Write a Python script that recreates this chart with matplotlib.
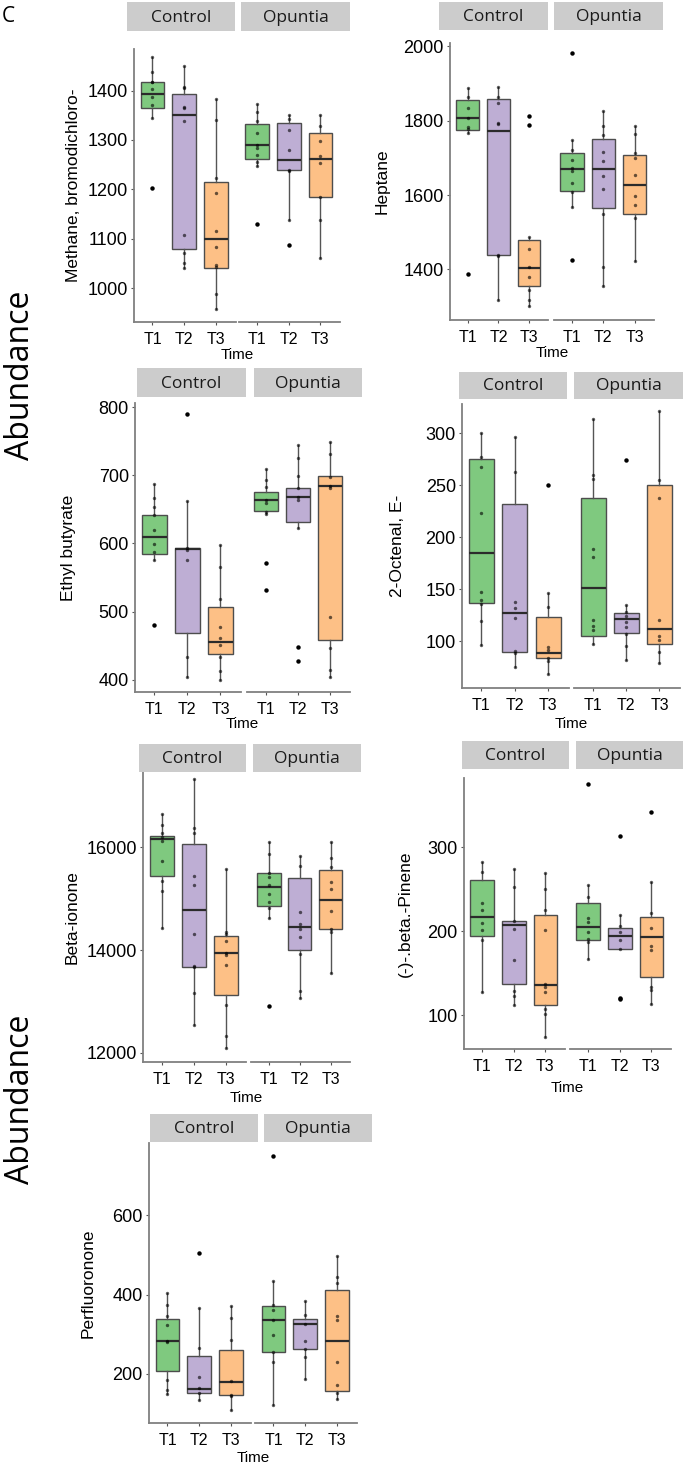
import numpy as np
import matplotlib
matplotlib.use("Agg")
from matplotlib import pyplot as plt
from matplotlib.patches import Rectangle

plt.rcParams['font.family'] = ['Liberation Sans', 'DejaVu Sans']

# groups are always: Control T1, T2, T3, Opuntia T1, T2, T3
groups = ['Control', 'Opuntia']
times = ['T1', 'T2', 'T3']
colors = ['#7FC97F', '#BEAED4', '#FDC086']

# box stats per group: [lower whisker, q1, median, q3, upper whisker]
methane_box = [[1344, 1364, 1394, 1418, 1467], [1042, 1080, 1351, 1393, 1449], [958, 1041, 1099, 1216, 1382],
               [1248, 1262, 1289, 1332, 1372], [1138, 1239, 1259, 1334, 1351], [1061, 1184, 1262, 1314, 1351]]
methane_pts = [[1467, 1438, 1418, 1417, 1403, 1387, 1370, 1344],
               [1449, 1407, 1405, 1366, 1364, 1339, 1108, 1071, 1051, 1042],
               [1382, 1341, 1224, 1192, 1115, 1083, 1047, 1044, 989, 958],
               [1372, 1357, 1339, 1314, 1289, 1283, 1270, 1255, 1248],
               [1351, 1343, 1320, 1280, 1240, 1238, 1138],
               [1351, 1329, 1297, 1268, 1254, 1184, 1138, 1061]]
methane_out = [[1202], [], [], [1130], [1088], []]

heptane_box = [[1766, 1775, 1808, 1856, 1887], [1319, 1439, 1772, 1859, 1891], [1301, 1355, 1405, 1479, 1486],
               [1569, 1612, 1670, 1714, 1748], [1355, 1566, 1670, 1752, 1827], [1423, 1548, 1627, 1709, 1787]]
heptane_pts = [[1887, 1863, 1834, 1807, 1784, 1777, 1766],
               [1891, 1863, 1848, 1794, 1790, 1440, 1436, 1319],
               [1486, 1456, 1407, 1380, 1346, 1319, 1301],
               [1748, 1721, 1694, 1672, 1665, 1633, 1607, 1569],
               [1827, 1786, 1761, 1715, 1691, 1651, 1616, 1549, 1407, 1355],
               [1787, 1763, 1712, 1699, 1654, 1597, 1573, 1539, 1423]]
heptane_out = [[1387], [], [1813, 1788], [1983, 1425], [], []]

ethyl_box = [[575, 585, 609, 642, 687], [404, 469, 592, 593, 662], [400, 438, 456, 507, 598],
             [643, 647, 664, 676, 709], [623, 632, 668, 681, 745], [404, 458, 684, 699, 749]]
ethyl_pts = [[687, 666, 654, 642, 620, 599, 588, 575],
             [662, 593, 591, 576, 433, 404],
             [598, 566, 519, 477, 461, 451, 433, 413, 400],
             [709, 693, 683, 663, 659, 646, 643],
             [745, 726, 699, 681, 668, 663, 623],
             [749, 731, 698, 684, 681, 492, 446, 414, 404]]
ethyl_out = [[481], [790], [], [571, 531], [448, 428], []]

octenal_box = [[96, 137, 185, 275, 300], [75, 90, 127, 232, 296], [68, 84, 89, 123, 146],
               [97, 105, 151, 238, 314], [82, 108, 121, 127, 135], [79, 97, 112, 250, 321]]
octenal_pts = [[300, 277, 267, 223, 147, 140, 136, 119, 96],
               [296, 263, 138, 132, 122, 91, 89, 75],
               [146, 133, 94, 92, 84, 81, 68],
               [314, 260, 256, 189, 181, 120, 115, 111, 97],
               [135, 128, 124, 118, 114, 107, 95, 82],
               [321, 255, 238, 120, 105, 101, 90, 79]]
octenal_out = [[], [], [250], [], [274], []]

ionone_box = [[14435, 15442, 16162, 16221, 16643], [12539, 13675, 14779, 16065, 17325],
              [12084, 13123, 13935, 14279, 15571], [14630, 14857, 15221, 15494, 16097],
              [13058, 14000, 14455, 15409, 15831], [13545, 14403, 14974, 15558, 16110]]
ionone_pts = [[16643, 16435, 16273, 16208, 16123, 15740, 15344, 15156, 14435],
              [17325, 16383, 16286, 15442, 15266, 14305, 13688, 13662, 13169, 12539],
              [15571, 14357, 14312, 14182, 13948, 13903, 13708, 12929, 12325, 12084],
              [16097, 15870, 15506, 15429, 15266, 15084, 14942, 14812, 14630],
              [15831, 15636, 14747, 14500, 14403, 14260, 13916, 13208, 13058],
              [16110, 15799, 15623, 15331, 15182, 14760, 14409, 14357, 13545]]
ionone_out = [[], [], [], [12909], [], []]

pinene_box = [[128, 194, 217, 261, 282], [112, 137, 207, 212, 274], [74, 112, 136, 219, 269],
              [167, 189, 205, 234, 255], [179, 179, 194, 204, 219], [114, 145, 193, 217, 258]]
pinene_pts = [[282, 270, 233, 225, 210, 201, 189, 128],
              [274, 252, 212, 202, 166, 129, 123, 112],
              [269, 250, 225, 201, 137, 134, 128, 107, 101, 74],
              [255, 241, 216, 211, 199, 191, 187, 167],
              [219, 206, 199, 190, 179],
              [258, 222, 204, 182, 178, 134, 130, 114]]
pinene_out = [[], [], [], [375], [313, 121, 120], [342]]

perfl_box = [[150, 208, 282, 339, 405], [134, 151, 162, 245, 367], [108, 147, 179, 259, 371],
             [122, 255, 336, 372, 433], [187, 262, 325, 338, 384], [136, 157, 283, 411, 496]]
perfl_pts = [[405, 374, 345, 322, 282, 280, 185, 160, 150],
             [367, 265, 191, 164, 151, 134],
             [371, 340, 286, 181, 147, 145, 108],
             [433, 373, 362, 336, 297, 255, 229, 122],
             [384, 349, 325, 284, 263, 242, 187],
             [496, 443, 430, 346, 335, 231, 172, 151, 136]]
perfl_out = [[], [504], [], [750], [], []]

W, H = 685, 1465
fig = plt.figure(figsize=(W / 100, H / 100), dpi=100)


def rect(x0, y0, x1, y1):
    return [x0 / W, 1 - y1 / H, (x1 - x0) / W, (y1 - y0) / H]


def panel(label, box, pts, out, ylim, yticks, geo):
    cx0, cx1, ox0, ox1, y0, y1, sc0, sc1, so0, so1, sy0, sy1, lab_x, time_y = geo
    axc = fig.add_axes(rect(cx0, y0, cx1, y1))
    axo = fig.add_axes(rect(ox0, y0, ox1, y1), sharey=axc)
    for k, ax in enumerate([axc, axo]):
        stats = []
        for i in range(3):
            lo, q1, med, q3, hi = box[3 * k + i]
            stats.append(dict(whislo=lo, q1=q1, med=med, q3=q3, whishi=hi, fliers=out[3 * k + i]))
        bp = ax.bxp(stats, positions=[1, 2, 3], widths=0.75, patch_artist=True, showcaps=False,
                    boxprops=dict(edgecolor='#4d4d4d', linewidth=1.0),
                    whiskerprops=dict(color='#555555', linewidth=1.0),
                    medianprops=dict(color='#2b2b2b', linewidth=1.6),
                    flierprops=dict(marker='o', markerfacecolor='black', markeredgecolor='none',
                                    markersize=3.2))
        for patch, c in zip(bp['boxes'], colors):
            patch.set_facecolor(c)
        for i in range(3):
            y = pts[3 * k + i]
            ax.scatter(np.full(len(y), i + 1), y, s=6, c='black', alpha=0.6, lw=0, zorder=4)
        ax.set_xlim(0.42, 3.62)
        ax.set_xticks([1, 2, 3])
        ax.set_xticklabels(times, fontsize=11.5)
        ax.tick_params(axis='x', length=2.5, width=0.8, color='#555555', pad=5)
        for s in ['top', 'right']:
            ax.spines[s].set_visible(False)
        ax.spines['bottom'].set_color('#808080')
        ax.spines['bottom'].set_linewidth(1.3)
        ax.set_facecolor('none')
        strip = (sc0, sc1) if k == 0 else (so0, so1)
        fig.patches.append(Rectangle((strip[0] / W, 1 - sy1 / H), (strip[1] - strip[0]) / W,
                                     (sy1 - sy0) / H, transform=fig.transFigure,
                                     facecolor='#cccccc', edgecolor='none'))
        fig.text((strip[0] + strip[1]) / 2 / W, 1 - (sy0 + sy1 + 2) / 2 / H, groups[k],
                 family='Open Sans', fontsize=12.5, ha='center', va='center', color='#1a1a1a')
    axc.set_ylim(*ylim)
    axc.set_yticks(yticks)
    axc.tick_params(axis='y', length=2.5, width=0.8, color='#555555', pad=2, labelsize=13)
    axc.spines['left'].set_color('#808080')
    axc.spines['left'].set_linewidth(1.3)
    axo.spines['left'].set_visible(False)
    axo.tick_params(axis='y', left=False, labelleft=False)
    fig.text(lab_x / W, 1 - (y0 + y1) / 2 / H, label, rotation=90, fontsize=12.5,
             ha='center', va='center')
    fig.text((cx0 + ox1) / 2 / W, 1 - time_y / H, 'Time', fontsize=11,
             ha='center', va='center')


panel('Methane, bromodichloro-', methane_box, methane_pts, methane_out,
      (932, 1484), [1000, 1100, 1200, 1300, 1400],
      (134, 236, 239, 340, 49, 322, 127, 235, 241, 350, 2, 31, 73, 355))
panel('Heptane', heptane_box, heptane_pts, heptane_out,
      (1264, 2009), [1400, 1600, 1800, 2000],
      (450, 548, 554, 654, 43, 320, 439, 548, 554, 663, 2, 30, 382, 353))
panel('Ethyl butyrate', ethyl_box, ethyl_pts, ethyl_out,
      (382, 806), [400, 500, 600, 700, 800],
      (135, 241, 247, 350, 403, 692, 137, 246, 254, 362, 368, 397, 68, 724))
panel('2-Octenal, E-', octenal_box, octenal_pts, octenal_out,
      (55, 328), [100, 150, 200, 250, 300],
      (462, 569, 574, 680, 404, 688, 459, 567, 574, 683, 372, 399, 398, 724))
panel('Beta-ionone', ionone_box, ionone_pts, ionone_out,
      (11818, 17468), [12000, 14000, 16000],
      (143, 246, 251, 350, 772, 1062, 139, 246, 253, 361, 744, 772, 72, 1098))
panel('(-)-.beta.-Pinene', pinene_box, pinene_pts, pinene_out,
      (60, 382), [100, 200, 300],
      (464, 565, 570, 671, 778, 1049, 462, 569, 576, 683, 741, 769, 405, 1088))
panel('Perfluoronone', perfl_box, perfl_pts, perfl_out,
      (76, 782), [200, 400, 600],
      (149, 251, 255, 357, 1143, 1423, 150, 258, 264, 372, 1114, 1142, 88, 1458))

fig.text(8 / W, 1 - 16 / H, 'C', family='Open Sans', fontsize=15, ha='center', va='center')
for yc in [375, 1099]:
    fig.text(21 / W, 1 - yc / H, 'Abundance', family='Open Sans', fontsize=23, rotation=90,
             ha='center', va='center')

fig.savefig('out.png', dpi=100)
